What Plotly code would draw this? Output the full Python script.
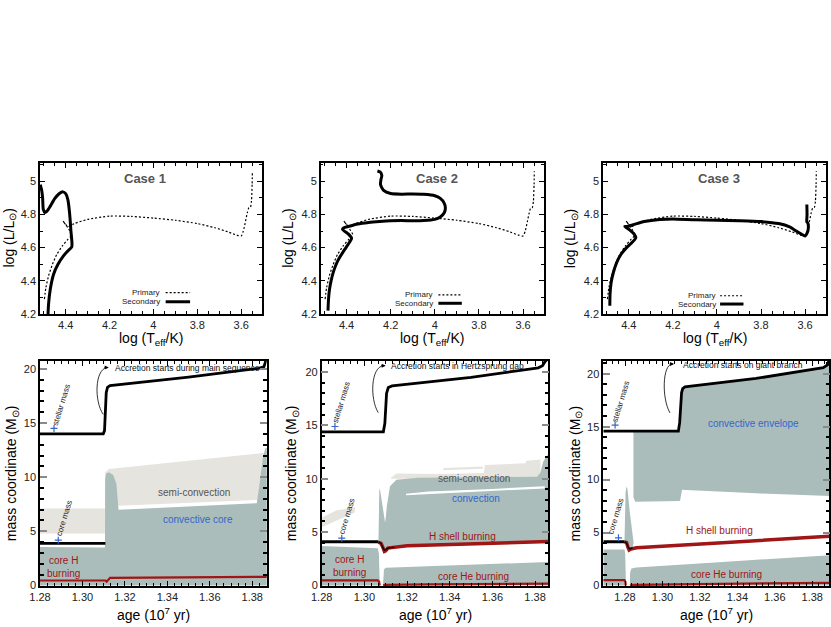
import plotly.graph_objects as go

FONT = "Liberation Sans, Arial, Helvetica, sans-serif"
TEAL = "#aabdbb"
BEIGE = "#e5e4de"
RED = "#a01515"
BLUE = "#3366cc"
GRAYTXT = "#555555"

# ---------------- HR diagram data ----------------
primary_logT = [4.497, 4.49, 4.478, 4.46, 4.44, 4.415, 4.39, 4.375, 4.372, 4.39, 4.412, 4.40, 4.39,
                4.36, 4.30, 4.2, 4.1, 4.0, 3.9, 3.8, 3.72, 3.66, 3.62, 3.60, 3.59, 3.58, 3.572,
                3.565, 3.558, 3.553, 3.55, 3.549]
primary_logL = [4.29, 4.36, 4.43, 4.5, 4.56, 4.61, 4.65, 4.67, 4.68, 4.72, 4.76, 4.74, 4.726,
                4.745, 4.77, 4.79, 4.788, 4.778, 4.765, 4.745, 4.72, 4.695, 4.675, 4.67, 4.7, 4.76,
                4.81, 4.84, 4.842, 4.88, 4.98, 5.06]

case1_logT = [4.482, 4.478, 4.47, 4.455, 4.435, 4.41, 4.39, 4.372, 4.376, 4.383, 4.39, 4.40,
              4.412, 4.43, 4.45, 4.47, 4.485, 4.495, 4.502, 4.505, 4.51, 4.516]
case1_logL = [4.15, 4.26, 4.35, 4.44, 4.5, 4.55, 4.58, 4.606, 4.7, 4.82, 4.89, 4.925, 4.936,
              4.925, 4.895, 4.85, 4.82, 4.812, 4.83, 4.9, 4.95, 4.98]

case2_logT = [4.484, 4.482, 4.478, 4.47, 4.458, 4.44, 4.42, 4.40, 4.385, 4.377, 4.39, 4.418,
              4.412, 4.39, 4.35, 4.30, 4.25, 4.2, 4.15, 4.1, 4.05, 4.0, 3.975, 3.957, 3.952,
              3.958, 3.975, 4.0, 4.05, 4.1, 4.15, 4.2, 4.232, 4.246, 4.244, 4.24, 4.248, 4.26]
case2_logL = [4.22, 4.28, 4.34, 4.40, 4.46, 4.52, 4.565, 4.605, 4.635, 4.656, 4.68, 4.71,
              4.72, 4.728, 4.742, 4.752, 4.758, 4.762, 4.763, 4.762, 4.763, 4.77, 4.785, 4.81,
              4.84, 4.87, 4.897, 4.913, 4.921, 4.923, 4.922, 4.926, 4.945, 4.98, 5.01, 5.035,
              5.056, 5.062]

case3_logT = [4.486, 4.485, 4.48, 4.47, 4.455, 4.435, 4.41, 4.39, 4.375, 4.368, 4.375, 4.395,
              4.418, 4.41, 4.38, 4.33, 4.26, 4.2, 4.1, 4.0, 3.9, 3.8, 3.72, 3.67, 3.64, 3.615,
              3.6, 3.59, 3.585, 3.588, 3.592, 3.591, 3.592]
case3_logL = [4.25, 4.32, 4.39, 4.45, 4.51, 4.56, 4.6, 4.625, 4.645, 4.66, 4.68, 4.705,
              4.728, 4.727, 4.738, 4.757, 4.77, 4.773, 4.768, 4.765, 4.762, 4.757, 4.745, 4.725,
              4.7, 4.68, 4.67, 4.69, 4.72, 4.75, 4.755, 4.8, 4.86]

case_titles = ["Case 1", "Case 2", "Case 3"]
legend_names = ["Primary", "Secondary"]

# ---------------- Kippenhahn data: panel 1 (Case 1) ----------------
p1_star_age = [1.28, 1.3098, 1.3104, 1.3108, 1.3112, 1.3118, 1.313, 1.35, 1.383, 1.3855, 1.3862, 1.3868]
p1_star_mass = [14.0, 14.0, 14.3, 16.0, 17.8, 18.3, 18.45, 19.25, 20.05, 20.2, 20.6, 21.0]
p1_core_age = [1.28, 1.3108]
p1_core_mass = [3.88, 3.88]
p1_conv_age = [1.28, 1.3106, 1.3107, 1.3112, 1.3125, 1.3145, 1.316, 1.3165, 1.3168, 1.317,
               1.33, 1.36, 1.3821, 1.3832, 1.384, 1.385, 1.3862, 1.3875, 1.3875, 1.28]
p1_conv_mass = [3.55, 3.5, 9.8, 10.35, 10.45, 10.2, 9.4, 8.4, 7.6, 7.0, 7.1, 7.35, 7.6,
                9.0, 10.5, 11.8, 12.7, 12.7, 0, 0]
p1_semi1_age = [1.28, 1.3106, 1.3106, 1.28]
p1_semi1_mass = [4.8, 4.8, 7.1, 7.1]
p1_semi2_age = [1.3106, 1.3125, 1.386, 1.386, 1.383, 1.35, 1.317, 1.3106]
p1_semi2_mass = [10.4, 10.75, 12.25, 7.9, 7.9, 7.6, 7.35, 7.35]
p1_hburn_age = [1.28, 1.3108, 1.3114, 1.313, 1.3875]
p1_hburn_mass = [0.46, 0.46, 0.35, 0.7, 0.8]

# ---------------- panel 2 (Case 2) ----------------
p2_star_age = [1.28, 1.3089, 1.3096, 1.3100, 1.3104, 1.3112, 1.313, 1.35, 1.3815, 1.3835, 1.3847, 1.3862]
p2_star_mass = [14.4, 14.4, 15.2, 16.8, 18.0, 18.55, 18.7, 19.5, 20.4, 20.6, 21.0, 21.3]
p2_core_age = [1.28, 1.3066]
p2_core_mass = [4.1, 4.1]
p2_coredip_age = [1.3066, 1.3078, 1.3088, 1.3094, 1.3100, 1.311, 1.314]
p2_coredip_mass = [4.1, 3.95, 3.5, 3.3, 3.35, 3.5, 3.6]
p2_hshell_age = [1.3066, 1.3078, 1.3088, 1.3094, 1.3100, 1.311, 1.32, 1.35, 1.3862]
p2_hshell_mass = [4.05, 3.95, 3.5, 3.2, 3.25, 3.5, 3.72, 3.9, 4.12]
p2_hcore_age = [1.28, 1.30, 1.3063, 1.3068, 1.3071, 1.3072, 1.28]
p2_hcore_mass = [3.7, 3.6, 3.5, 3.0, 1.5, 0, 0]
p2_hecore_age = [1.3087, 1.3088, 1.3092, 1.3100, 1.33, 1.36, 1.3862, 1.3862]
p2_hecore_mass = [0, 1.0, 1.5, 1.66, 1.8, 2.0, 2.2, 0]
p2_env_age = [1.3066, 1.3067, 1.3070, 1.3074, 1.3085, 1.3097, 1.3101, 1.3105, 1.312, 1.315,
              1.325, 1.36, 1.381, 1.3825, 1.3838, 1.385, 1.3862, 1.3862, 1.35, 1.32, 1.311,
              1.3100, 1.3094, 1.3088, 1.3078, 1.3066]
p2_env_mass = [4.05, 8.8, 9.1, 8.9, 7.4, 5.9, 6.5, 7.4, 9.3, 9.9, 10.1, 10.15, 10.2, 10.6,
               11.6, 12.0, 12.3, 4.12, 3.9, 3.72, 3.5, 3.25, 3.2, 3.5, 3.95, 4.05]
p2_gap_age = [1.3195, 1.33, 1.36, 1.3845, 1.3845, 1.36, 1.33, 1.3195]
p2_gap_mass = [8.6, 8.8, 9.05, 9.3, 9.1, 8.85, 8.55, 8.45]
p2_semi_age = [1.3125, 1.315, 1.335, 1.356, 1.3565, 1.3755, 1.376, 1.3825, 1.3825, 1.3125]
p2_semi_mass = [10.1, 10.5, 10.45, 10.55, 11.3, 11.45, 11.7, 11.8, 10.0, 10.0]
p2_semi2_age = [1.337, 1.3555, 1.3555, 1.337]
p2_semi2_mass = [10.8, 10.95, 11.15, 11.0]
p2_semi3_age = [1.28, 1.2955, 1.2957, 1.287, 1.28]
p2_semi3_mass = [5.45, 6.85, 7.3, 7.05, 6.35]
p2_hburn_age = [1.28, 1.3063, 1.3069, 1.3072]
p2_hburn_mass = [0.47, 0.47, 0.35, 0.0]
p2_heburn_age = [1.3088, 1.3095, 1.33, 1.36, 1.3862]
p2_heburn_mass = [0.0, 0.06, 0.1, 0.13, 0.17]

# ---------------- panel 3 (Case 3) ----------------
p3_star_age = [1.2684, 1.3085, 1.3092, 1.3097, 1.3102, 1.3108, 1.312, 1.35, 1.3859, 1.3883, 1.3892]
p3_star_mass = [14.58, 14.58, 15.4, 17.0, 18.2, 18.6, 18.75, 19.55, 20.58, 20.85, 21.5]
p3_core_age = [1.2684, 1.2798]
p3_core_mass = [4.13, 4.13]
p3_coredip_age = [1.2798, 1.2808, 1.2816, 1.2825, 1.284]
p3_coredip_mass = [4.13, 4.0, 3.65, 3.45, 3.52]
p3_hshell_age = [1.2798, 1.2808, 1.2816, 1.2822, 1.2832, 1.2862, 1.3343, 1.3891]
p3_hshell_mass = [4.13, 4.05, 3.6, 3.35, 3.45, 3.56, 4.05, 4.66]
p3_hcore_age = [1.2684, 1.2797, 1.2801, 1.2804, 1.2805, 1.2684]
p3_hcore_mass = [3.4, 3.4, 3.0, 1.5, 0, 0]
p3_spike_age = [1.2797, 1.2803, 1.2808, 1.2813, 1.2825, 1.2838, 1.2846, 1.284, 1.2825, 1.2815, 1.2805]
p3_spike_mass = [4.1, 8.8, 9.35, 9.1, 7.0, 5.0, 4.0, 3.6, 3.45, 3.7, 4.0]
p3_hecore_age = [1.2826, 1.2827, 1.2834, 1.286, 1.33, 1.36, 1.3895, 1.3895]
p3_hecore_mass = [0, 1.2, 1.6, 1.7, 2.2, 2.5, 2.85, 0]
p3_envtop_age = [1.2845, 1.3085, 1.3092, 1.3097, 1.3102, 1.3108, 1.312, 1.35, 1.3859, 1.3883, 1.3895]
p3_envtop_mass = [14.58, 14.58, 15.4, 17.0, 18.2, 18.6, 18.75, 19.55, 20.58, 20.85, 21.6]
p3_envbot_age = [1.3895, 1.35, 1.3125, 1.3106, 1.3103, 1.3099, 1.3094, 1.309, 1.287, 1.2855, 1.2845]
p3_envbot_mass = [8.44, 8.7, 9.02, 9.05, 8.9, 8.4, 8.0, 7.97, 7.85, 7.9, 8.3]
p3_hburn_age = [1.2684, 1.2797, 1.2802, 1.2804]
p3_hburn_mass = [0.5, 0.5, 0.35, 0.0]
p3_heburn_age = [1.2827, 1.284, 1.33, 1.3895]
p3_heburn_mass = [0.0, 0.05, 0.15, 0.25]

accretion_texts = ["Accretion starts during main sequence",
                   "Accretion starts in Hertzsprung gap",
                   "Accretion starts on giant branch"]

fig = go.Figure()


def poly(xs, ys, color, n):
    fig.add_trace(go.Scatter(x=xs, y=ys, mode="lines", fill="toself", fillcolor=color,
                             line=dict(width=0, color=color), hoverinfo="skip",
                             xaxis="x%d" % n, yaxis="y%d" % n))


def curve(xs, ys, color, width, n, dash=None, shape="linear"):
    fig.add_trace(go.Scatter(x=xs, y=ys, mode="lines",
                             line=dict(width=width, color=color, dash=dash, shape=shape,
                                       smoothing=0.6 if shape == "spline" else None),
                             hoverinfo="skip", xaxis="x%d" % n, yaxis="y%d" % n))


# --- HR panels
secondaries = [(case1_logT, case1_logL), (case2_logT, case2_logL), (case3_logT, case3_logL)]
for i, (sx, sy) in enumerate(secondaries):
    n = i + 1
    curve(primary_logT, primary_logL, "black", 1.2, n, dash="2px,2px", shape="spline")
    curve(sx, sy, "black", 3, n, shape="spline")

# --- Kippenhahn panel 1 (axis 4)
poly(p1_semi1_age, p1_semi1_mass, BEIGE, 4)
poly(p1_semi2_age, p1_semi2_mass, BEIGE, 4)
poly(p1_conv_age, p1_conv_mass, TEAL, 4)
curve(p1_hburn_age, p1_hburn_mass, RED, 2.2, 4)
curve(p1_core_age, p1_core_mass, "black", 2.8, 4)
curve(p1_star_age, p1_star_mass, "black", 2.8, 4)

# --- panel 2 (axis 5)
poly(p2_semi3_age, p2_semi3_mass, BEIGE, 5)
poly(p2_semi_age, p2_semi_mass, BEIGE, 5)
poly(p2_semi2_age, p2_semi2_mass, BEIGE, 5)
poly(p2_hcore_age, p2_hcore_mass, TEAL, 5)
poly(p2_hecore_age, p2_hecore_mass, TEAL, 5)
poly(p2_env_age, p2_env_mass, TEAL, 5)
poly(p2_gap_age, p2_gap_mass, "white", 5)
curve(p2_hburn_age, p2_hburn_mass, RED, 2.2, 5)
curve(p2_heburn_age, p2_heburn_mass, RED, 2.2, 5)
curve(p2_hshell_age, p2_hshell_mass, RED, 3.5, 5)
curve(p2_coredip_age, p2_coredip_mass, "black", 1.2, 5)
curve(p2_core_age, p2_core_mass, "black", 2.8, 5)
curve(p2_star_age, p2_star_mass, "black", 2.8, 5)

# --- panel 3 (axis 6)
poly(p3_hcore_age, p3_hcore_mass, TEAL, 6)
poly(p3_spike_age, p3_spike_mass, TEAL, 6)
poly(p3_hecore_age, p3_hecore_mass, TEAL, 6)
poly(p3_envtop_age + p3_envbot_age, p3_envtop_mass + p3_envbot_mass, TEAL, 6)
curve(p3_hburn_age, p3_hburn_mass, RED, 2.2, 6)
curve(p3_heburn_age, p3_heburn_mass, RED, 2.2, 6)
curve(p3_hshell_age, p3_hshell_mass, RED, 3.5, 6)
curve(p3_coredip_age, p3_coredip_mass, "black", 1.2, 6)
curve(p3_core_age, p3_core_mass, "black", 2.8, 6)
curve(p3_star_age, p3_star_mass, "black", 2.8, 6)

# --- blue markers at stellar mass / core mass labels
marker_pts = {4: ([1.2866, 1.2886], [14.5, 4.18]),
              5: ([1.2862, 1.2894], [14.9, 4.43]),
              6: ([1.2747, 1.2765], [15.15, 4.5])}
for n, (mx, my) in marker_pts.items():
    fig.add_trace(go.Scatter(x=mx, y=my, mode="markers",
                             marker=dict(symbol="cross-thin-open", size=5, color=BLUE,
                                         line=dict(color=BLUE, width=1.2)),
                             hoverinfo="skip", xaxis="x%d" % n, yaxis="y%d" % n))

# ---------------- layout ----------------
W, H = 831, 627
top_y = [1 - 314 / H, 1 - 163 / H]
bot_y = [1 - 586 / H, 1 - 361 / H]
top_x = [[40 / W, 262 / W], [320.7 / W, 544 / W], [603 / W, 826 / W]]
bot_x = [[40 / W, 266.7 / W], [321.7 / W, 548.3 / W], [603.3 / W, 829.3 / W]]
bot_xrange = [[1.28, 1.3868], [1.28, 1.3862], [1.2684, 1.3891]]
bot_yrange = [[-0.05, 20.73], [-0.05, 21.04], [-0.05, 21.2]]

tickfont = dict(family=FONT, size=11, color="#222222")
common = dict(showline=True, linecolor="black", linewidth=1.5, mirror="ticks", ticks="inside",
              showgrid=False, zeroline=False, tickfont=tickfont, tickcolor="black",
              automargin=False)

layout = dict(width=W, height=H, margin=dict(l=0, r=0, t=0, b=0, pad=0, autoexpand=False),
              paper_bgcolor="white", plot_bgcolor="white", showlegend=False,
              font=dict(family=FONT))
for i in range(3):
    n = i + 1
    layout["xaxis%d" % n] = dict(common, domain=top_x[i], anchor="y%d" % n, range=[4.517, 3.505],
                                 tick0=3.6, dtick=0.2, ticklen=5,
                                 minor=dict(ticks="inside", dtick=0.05, ticklen=3, tickcolor="black"))
    layout["yaxis%d" % n] = dict(common, domain=top_y, anchor="x%d" % n, range=[4.2, 5.11],
                                 tick0=4.2, dtick=0.2, ticklen=5,
                                 minor=dict(ticks="inside", dtick=0.1, ticklen=3, tickcolor="black"))
    m = i + 4
    layout["xaxis%d" % m] = dict(common, domain=bot_x[i], anchor="y%d" % m, range=bot_xrange[i],
                                 tick0=1.28, dtick=0.02, tickformat=".2f", ticklen=5,
                                 minor=dict(ticks="inside", dtick=0.02 / 6, ticklen=3, tickcolor="black"))
    layout["yaxis%d" % m] = dict(common, domain=bot_y, anchor="x%d" % m, range=bot_yrange[i],
                                 tick0=0, dtick=5, ticklen=7, tickcolor="#8a8a8a", tickwidth=2,
                                 minor=dict(ticks="inside", dtick=1, ticklen=4, tickcolor="black"))
fig.update_layout(**layout)

ann = []
shapes = []

# axis titles
ytop_x = [10 / W, 289.3 / W, 571.7 / W]
ybot_x = [11.7 / W, 291.7 / W, 575 / W]
xtop_x = [151 / W, 432.3 / W, 714.5 / W]
xbot_x = [153.3 / W, 435 / W, 716.3 / W]
for i in range(3):
    ann.append(dict(xref="paper", yref="paper", x=ytop_x[i], y=1 - 238.5 / H, text="log (L/L<sub>⊙</sub>)",
                    textangle=-90, showarrow=False, xanchor="center", yanchor="middle",
                    font=dict(family=FONT, size=14, color="black")))
    ann.append(dict(xref="paper", yref="paper", x=ybot_x[i], y=1 - 473.5 / H,
                    text="mass coordinate (M<sub>⊙</sub>)",
                    textangle=-90, showarrow=False, xanchor="center", yanchor="middle",
                    font=dict(family=FONT, size=14, color="black")))
    ann.append(dict(xref="paper", yref="paper", x=xtop_x[i], y=1 - 339 / H, text="log (T<sub>eff</sub>/K)",
                    showarrow=False, xanchor="center", yanchor="middle",
                    font=dict(family=FONT, size=14, color="black")))
    ann.append(dict(xref="paper", yref="paper", x=xbot_x[i], y=1 - 614 / H, text="age (10<sup>7</sup> yr)",
                    showarrow=False, xanchor="center", yanchor="middle",
                    font=dict(family=FONT, size=14, color="black")))

# case titles and legends in HR panels
case_x = [0.473, 0.519, 0.522]
leg_text_x = [0.551, 0.512, 0.514]
leg_line = [[0.566, 0.676], [0.527, 0.632], [0.525, 0.63]]
leg_y = [[0.141, 0.081], [0.126, 0.071], [0.121, 0.066]]
for i in range(3):
    xr = "x%d domain" % (i + 1) if i else "x domain"
    yr = "y%d domain" % (i + 1) if i else "y domain"
    ann.append(dict(xref=xr, yref=yr, x=case_x[i], y=0.899, text="<b>%s</b>" % case_titles[i],
                    showarrow=False, xanchor="center", yanchor="middle",
                    font=dict(family=FONT, size=13, color=GRAYTXT)))
    for j in range(2):
        ann.append(dict(xref=xr, yref=yr, x=leg_text_x[i], y=leg_y[i][j], text=legend_names[j],
                        showarrow=False, xanchor="right", yanchor="middle",
                        font=dict(family=FONT, size=8, color="#222222")))
        shapes.append(dict(type="line", xref=xr, yref=yr, x0=leg_line[i][0], x1=leg_line[i][1],
                           y0=leg_y[i][j], y1=leg_y[i][j],
                           line=dict(color="black", width=1.2 if j == 0 else 3,
                                     dash="2px,2px" if j == 0 else "solid")))

# Kippenhahn labels
labels = [
    (4, 1.3527, 8.56, "semi-convection", GRAYTXT), (4, 1.3546, 6.1, "convective core", BLUE),
    (4, 1.2913, 1.71, "core H<br>burning", RED),
    (5, 1.3514, 10.0, "semi-convection", GRAYTXT), (5, 1.3523, 8.15, "convection", BLUE),
    (5, 1.3461, 4.62, "H shell burning", RED), (5, 1.2928, 1.81, "core H<br>burning", RED),
    (5, 1.3511, 0.87, "core He burning", RED),
    (6, 1.3485, 15.28, "convective envelope", BLUE), (6, 1.3302, 5.23, "H shell burning", RED),
    (6, 1.3343, 1.04, "core He burning", RED),
]
for n, x, y, t, c in labels:
    ann.append(dict(xref="x%d" % n, yref="y%d" % n, x=x, y=y, text=t, showarrow=False,
                    xanchor="center", yanchor="middle", font=dict(family=FONT, size=10, color=c)))

rot_labels = [
    (4, 1.2902, 16.7, "stellar mass"), (4, 1.2914, 6.19, "core mass"),
    (5, 1.2895, 17.2, "stellar mass"), (5, 1.2919, 6.44, "core mass"),
    (6, 1.2777, 17.4, "stellar mass"), (6, 1.2752, 6.49, "core mass"),
]
for n, x, y, t in rot_labels:
    ann.append(dict(xref="x%d" % n, yref="y%d" % n, x=x, y=y, text=t, showarrow=False,
                    textangle=-73, xanchor="center", yanchor="middle",
                    font=dict(family=FONT, size=8, color="#222222")))

# accretion arrows
arrow_curves = [
    (4, "M 1.3098,15.8 C 1.3055,17.0 1.3058,19.9 1.3114,20.12", 1.3124, 20.12, 1.3145, 20.12),
    (5, "M 1.3065,16.2 C 1.3025,17.5 1.3030,20.5 1.3090,20.6", 1.3100, 20.6, 1.3116, 20.58),
    (6, "M 1.3040,16.3 C 1.2995,17.7 1.3000,20.85 1.3052,20.92", 1.3062, 20.92, 1.3099, 20.85),
]
for k, (n, path, tx, ty, lx, ly) in enumerate(arrow_curves):
    shapes.append(dict(type="path", xref="x%d" % n, yref="y%d" % n, path=path,
                       line=dict(color="black", width=0.8)))
    ann.append(dict(xref="x%d" % n, yref="y%d" % n, x=tx, y=ty, ax=-6, ay=0, text="",
                    showarrow=True, arrowhead=2, arrowsize=1, arrowwidth=0.8, arrowcolor="black"))
    ann.append(dict(xref="x%d" % n, yref="y%d" % n, x=lx, y=ly, text=accretion_texts[k],
                    showarrow=False, xanchor="left", yanchor="middle",
                    font=dict(family=FONT, size=8.5, color="#111111")))

fig.update_layout(annotations=ann, shapes=shapes)
fig.write_html("out.html", config={"responsive": False, "displayModeBar": False},
               post_script="document.body.style.margin='0';document.body.style.padding='0';")
